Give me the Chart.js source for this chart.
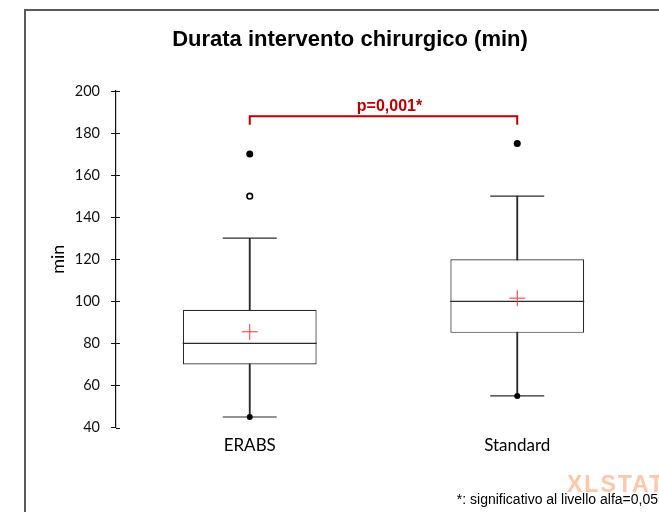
<!DOCTYPE html>
<html>
<head>
<meta charset="utf-8">
<script src="https://cdn.jsdelivr.net/npm/chart.js@4.4.1/dist/chart.umd.min.js"></script>
<style>
  html, body { margin: 0; padding: 0; background: #ffffff; }
  #wrap { width: 659px; height: 512px; position: relative; }
</style>
</head>
<body>
<div id="wrap"><canvas id="c" width="659" height="512"></canvas></div>
<script>
// ---- data ----
const categories = ['ERABS', 'Standard'];
const q1 = [70, 85];
const median = [80, 100];
const q3 = [96, 120];
const whiskerMin = [45, 55];
const whiskerMax = [130, 150];
const means = [85.5, 101.5];
const outliersFilled = [[170], [175]];
const outliersOpen = [[150], []];
const yMin = 40, yMax = 200, yStep = 20;
const titleText = 'Durata intervento chirurgico (min)';
const yAxisTitle = 'min';
const pValueText = 'p=0,001*';
const bracketLevel = 188;
const bracketDrop = 184;
const footnoteText = '*: significativo al livello alfa=0,05';
const watermarkText = 'XLSTAT';

// ---- derived dataset data ----
const boxData = categories.map((c, i) => [q1[i], q3[i]]);
const whiskerData = categories.map((c, i) => [whiskerMin[i], whiskerMax[i]]);
const filledPts = [];
outliersFilled.forEach((arr, i) => arr.forEach(v => filledPts.push({x: categories[i], y: v})));
const openPts = [];
outliersOpen.forEach((arr, i) => arr.forEach(v => openPts.push({x: categories[i], y: v})));

const LINE = '#2a2a2a';
const RED = '#C00000';

const extras = {
  id: 'extras',
  beforeDraw(chart) {
    const ctx = chart.ctx;
    ctx.save();
    ctx.fillStyle = '#ffffff';
    ctx.fillRect(0, 0, chart.width, chart.height);
    // frame
    ctx.strokeStyle = '#5a5a5a';
    ctx.lineWidth = 2;
    ctx.beginPath();
    ctx.moveTo(25, 512);
    ctx.lineTo(25, 10);
    ctx.lineTo(659, 10);
    ctx.stroke();
    // title
    ctx.fillStyle = '#000';
    ctx.font = 'bold 22px "Liberation Sans", Arial, sans-serif';
    ctx.textAlign = 'center';
    ctx.textBaseline = 'middle';
    ctx.fillText(titleText, 350, 40);
    // watermark
    ctx.fillStyle = 'rgba(255,160,110,0.6)';
    ctx.font = 'bold 23px "Liberation Sans", Arial, sans-serif';
    ctx.textAlign = 'left';
    ctx.textBaseline = 'middle';
    try { ctx.letterSpacing = '2px'; } catch (e) {}
    ctx.fillText(watermarkText, 567, 486);
    try { ctx.letterSpacing = '0px'; } catch (e) {}
    ctx.restore();
  },
  afterDraw(chart) {
    const ctx = chart.ctx;
    const xs = chart.scales.x, ys = chart.scales.y;
    ctx.save();
    // inner half of the y tick marks
    ctx.strokeStyle = '#111';
    ctx.lineWidth = 1;
    ys.ticks.forEach(t => {
      const py = Math.round(ys.getPixelForValue(t.value)) + 0.5;
      ctx.beginPath();
      ctx.moveTo(ys.right, py);
      ctx.lineTo(ys.right + 4, py);
      ctx.stroke();
    });
    // significance bracket
    const x0 = xs.getPixelForValue(0), x1 = xs.getPixelForValue(1);
    const yb = ys.getPixelForValue(bracketLevel), yd = ys.getPixelForValue(bracketDrop);
    ctx.strokeStyle = RED;
    ctx.lineWidth = 2;
    ctx.beginPath();
    ctx.moveTo(x0, yd);
    ctx.lineTo(x0, yb);
    ctx.lineTo(x1, yb);
    ctx.lineTo(x1, yd);
    ctx.stroke();
    ctx.fillStyle = RED;
    ctx.font = 'bold 16px "Liberation Sans", Arial, sans-serif';
    ctx.textAlign = 'center';
    ctx.textBaseline = 'alphabetic';
    ctx.fillText(pValueText, (x0 + x1) / 2 + 6, yb - 5);
    // footnote
    ctx.fillStyle = '#000';
    ctx.font = '14px "Liberation Sans", Arial, sans-serif';
    ctx.textAlign = 'right';
    ctx.textBaseline = 'middle';
    ctx.fillText(footnoteText, 658, 500);
    ctx.restore();
  }
};

new Chart(document.getElementById('c'), {
  type: 'bar',
  data: {
    labels: categories,
    datasets: [
      { type: 'line', label: 'mean', data: means, showLine: false,
        pointStyle: 'cross', pointRadius: 8, pointBorderWidth: 1,
        pointBorderColor: '#FF3030', pointBackgroundColor: '#FF3030', order: 0 },
      { type: 'line', label: 'median', data: median, showLine: false,
        pointStyle: 'line', pointRadius: 67, pointBorderWidth: 1.2,
        pointBorderColor: LINE, order: 1 },
      { type: 'line', label: 'capMax', data: whiskerMax, showLine: false,
        pointStyle: 'line', pointRadius: 27, pointBorderWidth: 1.2,
        pointBorderColor: LINE, order: 1 },
      { type: 'line', label: 'capMin', data: whiskerMin, showLine: false,
        pointStyle: 'line', pointRadius: 27, pointBorderWidth: 1.2,
        pointBorderColor: LINE, order: 1 },
      { type: 'line', label: 'minDot', data: whiskerMin, showLine: false,
        pointStyle: 'circle', pointRadius: 3, pointBorderWidth: 0,
        pointBackgroundColor: '#000', pointBorderColor: '#000', order: 0 },
      { type: 'line', label: 'outliers', data: filledPts, showLine: false,
        pointStyle: 'circle', pointRadius: 3.5, pointBorderWidth: 0,
        pointBackgroundColor: '#000', pointBorderColor: '#000', order: 0 },
      { type: 'line', label: 'outliersOpen', data: openPts, showLine: false,
        pointStyle: 'circle', pointRadius: 2.8, pointBorderWidth: 1.6,
        pointBackgroundColor: '#fff', pointBorderColor: '#000', order: 0 },
      { type: 'bar', label: 'box', data: boxData, grouped: false,
        barPercentage: 0.5, categoryPercentage: 1,
        backgroundColor: '#ffffff', borderColor: LINE, borderWidth: 1.2,
        borderSkipped: false, order: 4 },
      { type: 'bar', label: 'whisker', data: whiskerData, grouped: false,
        barThickness: 1.2, backgroundColor: LINE, borderWidth: 0, order: 5 }
    ]
  },
  options: {
    responsive: false,
    animation: false,
    devicePixelRatio: 1,
    layout: { autoPadding: false, padding: { left: 0, right: 8, top: 91, bottom: 0 } },
    plugins: {
      legend: { display: false },
      tooltip: { enabled: false },
      title: { display: false }
    },
    scales: {
      x: {
        type: 'category',
        offset: true,
        grid: { display: false, drawTicks: false },
        border: { display: false },
        ticks: { color: '#000', padding: 8, font: { family: 'Lato, sans-serif', size: 17 } },
        afterFit(scale) { scale.height = 84.5; }
      },
      y: {
        min: yMin, max: yMax,
        ticks: { stepSize: yStep, color: '#111', padding: 11, font: { family: 'Lato, sans-serif', size: 14.5 } },
        grid: { drawOnChartArea: false, drawTicks: true, tickLength: 5, color: '#111' },
        border: { display: true, color: '#111', width: 1.2 },
        title: { display: true, text: yAxisTitle, color: '#000',
          font: { family: 'Lato, sans-serif', size: 18 }, padding: { top: 47, bottom: 0 } },
        afterFit(scale) { scale.width = 116; }
      }
    }
  },
  plugins: [extras]
});
</script>
</body>
</html>
